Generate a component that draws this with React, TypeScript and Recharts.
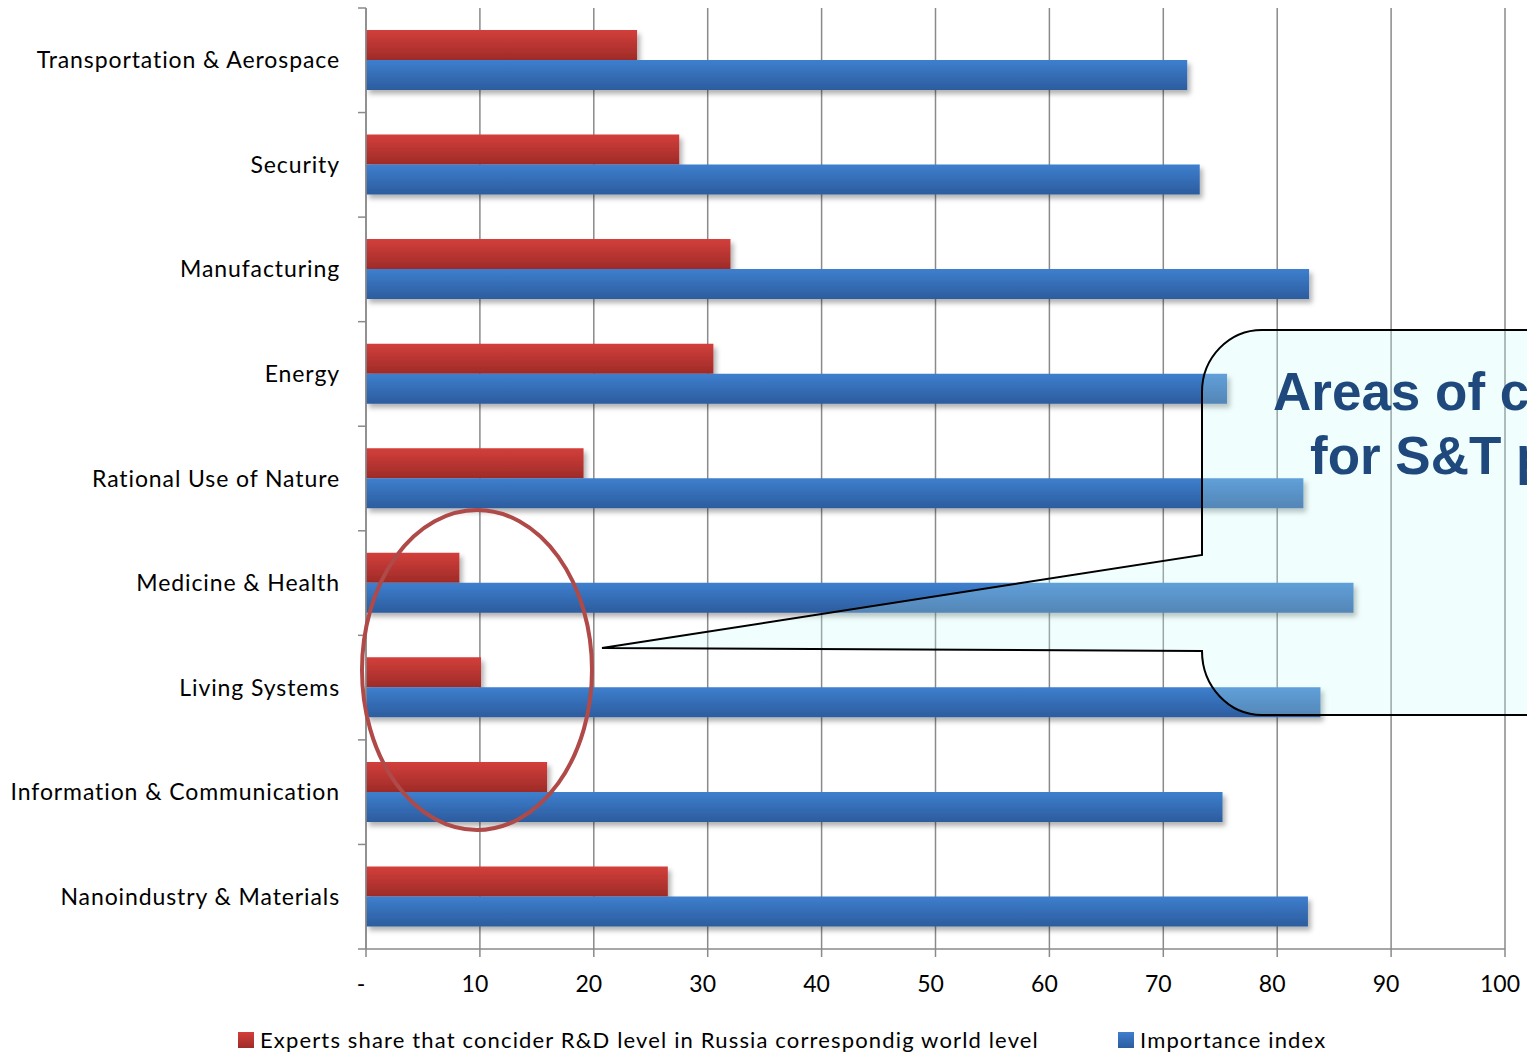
import { Bar, BarChart, CartesianGrid, XAxis, YAxis } from "recharts";

const categories = [
  "Transportation & Aerospace",
  "Security",
  "Manufacturing",
  "Energy",
  "Rational Use of Nature",
  "Medicine & Health",
  "Living Systems",
  "Information & Communication",
  "Nanoindustry & Materials ",
];

const expertsShare = [23.8, 27.5, 32.0, 30.5, 19.1, 8.2, 10.1, 15.9, 26.5];
const importanceIndex = [72.1, 73.2, 82.8, 75.6, 82.3, 86.7, 83.8, 75.2, 82.7];

const xTicks = [0, 10, 20, 30, 40, 50, 60, 70, 80, 90, 100];

const legendExperts = "Experts share that concider R&D level in Russia correspondig world level";
const legendImportance = "Importance index";

const data = categories.map((name, i) => ({
  name,
  experts: expertsShare[i],
  importance: importanceIndex[i],
}));

const W = 1527;
const H = 1055;
const PLOT_TOP = 8;
const PLOT_BOTTOM = 949;
const AXIS_X = 366;
const BAND = (PLOT_BOTTOM - PLOT_TOP) / categories.length;
const FONT = "Lato, 'Open Sans', sans-serif";
const GRID = "#8a8a8a";

const CategoryTick = (props: any) => {
  const { y, payload, index } = props;
  const top = y - BAND / 2;
  return (
    <g>
      <line x1={AXIS_X - 8} x2={AXIS_X} y1={top} y2={top} stroke={GRID} strokeWidth={1.5} />
      {index === categories.length - 1 && (
        <line
          x1={AXIS_X - 8}
          x2={AXIS_X}
          y1={top + BAND}
          y2={top + BAND}
          stroke={GRID}
          strokeWidth={1.5}
        />
      )}
      <text
        x={AXIS_X - 26}
        y={y}
        dy="0.35em"
        textAnchor="end"
        fontFamily={FONT}
        fontSize={23}
        letterSpacing={0.9}
        fill="#000"
      >
        {payload.value}
      </text>
    </g>
  );
};

const ValueTick = (props: any) => {
  const { x, payload } = props;
  return (
    <text
      x={x - 5}
      y={992}
      textAnchor="middle"
      fontFamily={FONT}
      fontSize={23}
      fill="#000"
    >
      {payload.value === 0 ? "-" : payload.value}
    </text>
  );
};

const Overlay = () => (
  <svg
    width={W}
    height={H}
    style={{ position: "absolute", left: 0, top: 0, pointerEvents: "none" }}
  >
    <ellipse
      cx={477}
      cy={670}
      rx={115}
      ry={160}
      fill="none"
      stroke="#b04a48"
      strokeWidth={4}
    />
    <path
      d="M 1262 330 H 1600 V 715 H 1262 A 60 64 0 0 1 1202 651 L 602 648 L 1202 555 V 392 A 60 62 0 0 1 1262 330 Z"
      fill="rgba(197,255,252,0.26)"
      stroke="#000"
      strokeWidth={2}
    />
    <g fontFamily="'Liberation Sans', Arial, sans-serif" fontWeight="bold" fontSize={53} fill="#1f497d">
      <text x={1273} y={410}>Areas of concern</text>
      <text x={1310} y={474}>for S&amp;T policy</text>
    </g>
  </svg>
);

const LegendItem = ({ left, color1, color2, label }: any) => (
  <div
    style={{
      position: "absolute",
      left,
      top: 1026,
      display: "flex",
      alignItems: "center",
      fontFamily: FONT,
      fontSize: 22,
      letterSpacing: 1.15,
      color: "#000",
      whiteSpace: "nowrap",
    }}
  >
    <div
      style={{
        width: 16,
        height: 16,
        marginRight: 6,
        background: `linear-gradient(${color1}, ${color2})`,
      }}
    />
    <span>{label}</span>
  </div>
);

export default function App() {
  return (
    <div
      style={{
        position: "absolute",
        left: 0,
        top: 0,
        width: W,
        height: H,
        overflow: "hidden",
        background: "#fff",
      }}
    >
      <BarChart
        width={W}
        height={H}
        data={data}
        layout="vertical"
        margin={{ top: PLOT_TOP, right: 22, bottom: H - PLOT_BOTTOM - 60, left: 0 }}
        barSize={30}
        barGap={0}
      >
        <defs>
          <linearGradient id="redGrad" x1="0" y1="0" x2="0" y2="1">
            <stop offset="0%" stopColor="#d33f3b" />
            <stop offset="100%" stopColor="#9e2b28" />
          </linearGradient>
          <linearGradient id="blueGrad" x1="0" y1="0" x2="0" y2="1">
            <stop offset="0%" stopColor="#3e7fce" />
            <stop offset="100%" stopColor="#2c5c9e" />
          </linearGradient>
          <filter id="barShadow" x="-5%" y="-30%" width="115%" height="180%">
            <feDropShadow dx={3} dy={4} stdDeviation={2.5} floodColor="#000" floodOpacity={0.3} />
          </filter>
        </defs>
        <CartesianGrid horizontal={false} stroke={GRID} strokeWidth={1.5} />
        <XAxis
          type="number"
          domain={[0, 100]}
          ticks={xTicks}
          interval={0}
          height={60}
          axisLine={{ stroke: GRID, strokeWidth: 1.5 }}
          tickLine={{ stroke: GRID, strokeWidth: 1.5 }}
          tickSize={8}
          tick={<ValueTick />}
        />
        <YAxis
          type="category"
          dataKey="name"
          width={AXIS_X}
          axisLine={{ stroke: GRID, strokeWidth: 1.5 }}
          tickLine={false}
          interval={0}
          tick={<CategoryTick />}
        />
        <Bar
          dataKey="experts"
          fill="url(#redGrad)"
          filter="url(#barShadow)"
          isAnimationActive={false}
        />
        <Bar
          dataKey="importance"
          fill="url(#blueGrad)"
          filter="url(#barShadow)"
          isAnimationActive={false}
        />
      </BarChart>
      <Overlay />
      <LegendItem left={238} color1="#d33f3b" color2="#9e2b28" label={legendExperts} />
      <LegendItem left={1118} color1="#3e7fce" color2="#2c5c9e" label={legendImportance} />
    </div>
  );
}
